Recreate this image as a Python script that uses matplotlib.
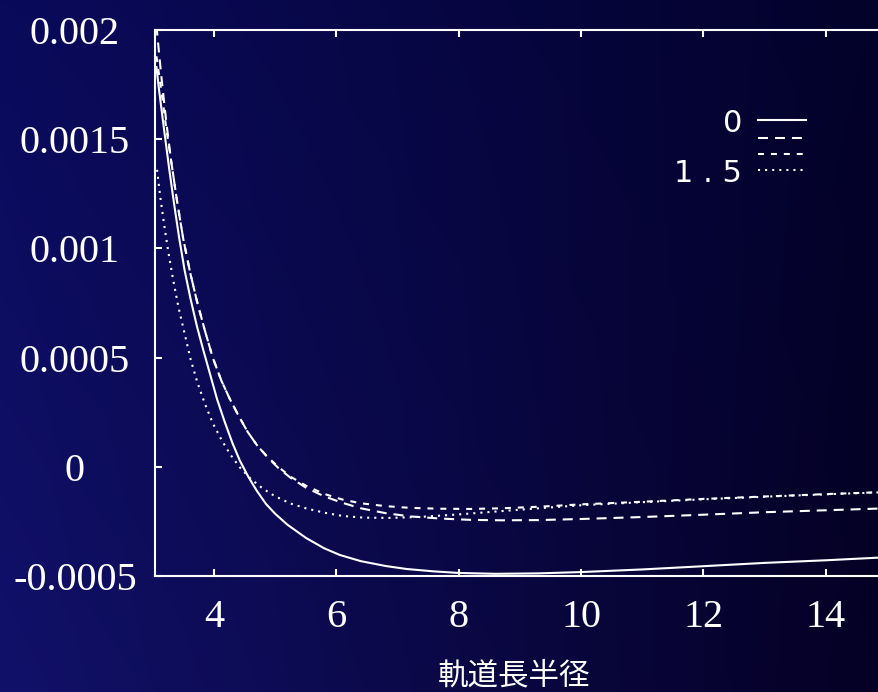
import numpy as np
import matplotlib
matplotlib.use("Agg")
import matplotlib.pyplot as plt

plt.rcParams['lines.scale_dashes'] = False

# Semi-major axis samples and the four curves (values in units of 1e-3)
a_solid = [3.06, 3.10, 3.15, 3.20, 3.27, 3.35, 3.43, 3.52, 3.62, 3.72, 3.82,
           3.93, 4.05, 4.17, 4.30, 4.42, 4.56, 4.70, 4.85, 5.00, 5.20, 5.50,
           5.80, 6.06, 6.40, 6.80, 7.15, 7.60, 8.00, 8.60, 9.30, 10.0, 11.0,
           11.94, 13.0, 14.0, 15.0]
v_solid = [1.83, 1.73, 1.62, 1.51, 1.36, 1.20, 1.05, 0.90, 0.765, 0.645, 0.54,
           0.43, 0.31, 0.21, 0.11, 0.03, -0.045, -0.11, -0.17, -0.215, -0.265,
           -0.325, -0.373, -0.404, -0.432, -0.454, -0.468, -0.479, -0.486,
           -0.49, -0.488, -0.482, -0.47, -0.456, -0.44, -0.428, -0.414]

a_long = [3.06, 3.10, 3.15, 3.22, 3.30, 3.40, 3.50, 3.61, 3.72, 3.85, 3.98,
          4.12, 4.26, 4.40, 4.55, 4.70, 4.87, 5.05, 5.25, 5.50, 5.80, 6.10,
          6.40, 6.80, 7.20, 7.70, 8.20, 8.70, 9.30, 10.0, 11.0, 11.94, 13.0,
          14.0, 15.0]
v_long = [2.02, 1.90, 1.76, 1.58, 1.40, 1.21, 1.04, 0.89, 0.76, 0.625, 0.50,
          0.395, 0.31, 0.235, 0.16, 0.10, 0.045, -0.005, -0.05, -0.095,
          -0.135, -0.165, -0.19, -0.212, -0.227, -0.237, -0.243, -0.245,
          -0.244, -0.239, -0.23, -0.22, -0.208, -0.199, -0.19]

a_short = [3.06, 3.10, 3.15, 3.22, 3.30, 3.40, 3.50, 3.61, 3.72, 3.85, 3.98,
           4.12, 4.26, 4.40, 4.55, 4.70, 4.87, 5.05, 5.25, 5.50, 5.80, 6.10,
           6.40, 6.80, 7.20, 7.70, 8.20, 8.70, 9.30, 10.0, 11.0, 12.0, 13.0,
           14.0, 15.0]
v_short = [1.88, 1.80, 1.70, 1.55, 1.40, 1.21, 1.04, 0.89, 0.76, 0.625, 0.50,
           0.395, 0.31, 0.235, 0.16, 0.10, 0.047, 0.0, -0.045, -0.086,
           -0.124, -0.15, -0.167, -0.18, -0.188, -0.192, -0.193, -0.19,
           -0.183, -0.172, -0.16, -0.147, -0.136, -0.125, -0.115]

a_dot = [3.07, 3.12, 3.18, 3.25, 3.33, 3.42, 3.52, 3.62, 3.73, 3.85, 3.98,
         4.12, 4.27, 4.43, 4.60, 4.80, 5.00, 5.25, 5.50, 5.80, 6.10, 6.45,
         6.90, 7.40, 8.00, 8.60, 9.30, 10.0, 11.0, 12.0, 13.0, 14.0, 15.0]
v_dot = [1.36, 1.24, 1.12, 0.99, 0.86, 0.73, 0.61, 0.49, 0.385, 0.29, 0.20,
         0.125, 0.055, -0.005, -0.055, -0.10, -0.135, -0.168, -0.19, -0.21,
         -0.225, -0.233, -0.234, -0.229, -0.218, -0.205, -0.19, -0.176,
         -0.162, -0.149, -0.137, -0.126, -0.116]

series_labels = ['0', '', '', '1 . 5']

x_ticks = [4, 6, 8, 10, 12, 14]
x_ticklabels = ['4', '6', '8', '10', '12', '14']
y_ticks = [-0.0005, 0.0, 0.0005, 0.001, 0.0015, 0.002]
y_ticklabels = ['-0.0005', '0', '0.0005', '0.001', '0.0015', '0.002']
x_label = '軌道長半径'

W, H = 879, 692
fig = plt.figure(figsize=(W / 100, H / 100), dpi=100)

# navy gradient backdrop
bg = fig.add_axes([0, 0, 1, 1], zorder=-10)
yy, xx = np.mgrid[0:1:H * 1j, 0:1:W * 1j]
tl = np.array([10, 10, 92]) / 255
tr = np.array([3, 2, 42]) / 255
bl = np.array([17, 17, 106]) / 255
br = np.array([5, 0, 36]) / 255
grad = ((1 - xx)[..., None] * (1 - yy)[..., None] * tl
        + xx[..., None] * (1 - yy)[..., None] * tr
        + (1 - xx)[..., None] * yy[..., None] * bl
        + xx[..., None] * yy[..., None] * br)
bg.imshow(grad, aspect='auto', extent=[0, 1, 0, 1], origin='upper')
bg.axis('off')

L, R, T, B = 155, 887, 30, 576
ax = fig.add_axes([L / W, 1 - B / H, (R - L) / W, (B - T) / H])
ax.set_facecolor('none')

styles = [dict(linestyle='-'),
          dict(dashes=(7.2, 5.0)),
          dict(dashes=(4.3, 5.0)),
          dict(dashes=(1.5, 3.6))]
xs = [a_solid, a_long, a_short, a_dot]
ys = [v_solid, v_long, v_short, v_dot]
for x, v, st in zip(xs, ys, styles):
    ax.plot(x, np.array(v) * 1e-3, color='white', lw=1.5, **st)

ax.set_xlim(3.036, 15.0)
ax.set_ylim(-0.0005, 0.002)

for sp in ax.spines.values():
    sp.set_color('white')
    sp.set_linewidth(1.5)

ax.set_xticks(x_ticks, x_ticklabels)
ax.set_yticks(y_ticks, y_ticklabels)
ax.tick_params(axis='both', direction='in', length=5, width=1.5,
               color='white', labelcolor='white', labelsize=29)
ax.tick_params(axis='x', top=True, pad=16.5)
ax.tick_params(axis='y', right=False, pad=57.6)
for lab in ax.get_yticklabels():
    lab.set_horizontalalignment('center')
for lab in ax.get_xticklabels() + ax.get_yticklabels():
    lab.set_fontfamily('Liberation Serif')

ax.set_xlabel(x_label, color='white', fontsize=22,
              family=['Noto Sans CJK JP', 'DejaVu Sans'], va='center')
ax.xaxis.set_label_coords((514 - L) / (R - L), (B - 676) / (B - T))

# key: label text on the left, line sample on the right
rows_y = [120, 137.5, 153.5, 170]
for lab, st, py in zip(series_labels, styles, rows_y):
    yf = (B - py) / (B - T)
    ax.plot([(758 - L) / (R - L), (806 - L) / (R - L)], [yf, yf],
            transform=ax.transAxes, color='white', lw=1.5, clip_on=False, **st)
    if lab:
        ax.text((742 - L) / (R - L), (B - (py + 11.5)) / (B - T), lab,
                transform=ax.transAxes, ha='right', va='baseline',
                color='white', fontsize=22, family=['DejaVu Sans'])

fig.savefig('out.png', dpi=100)
